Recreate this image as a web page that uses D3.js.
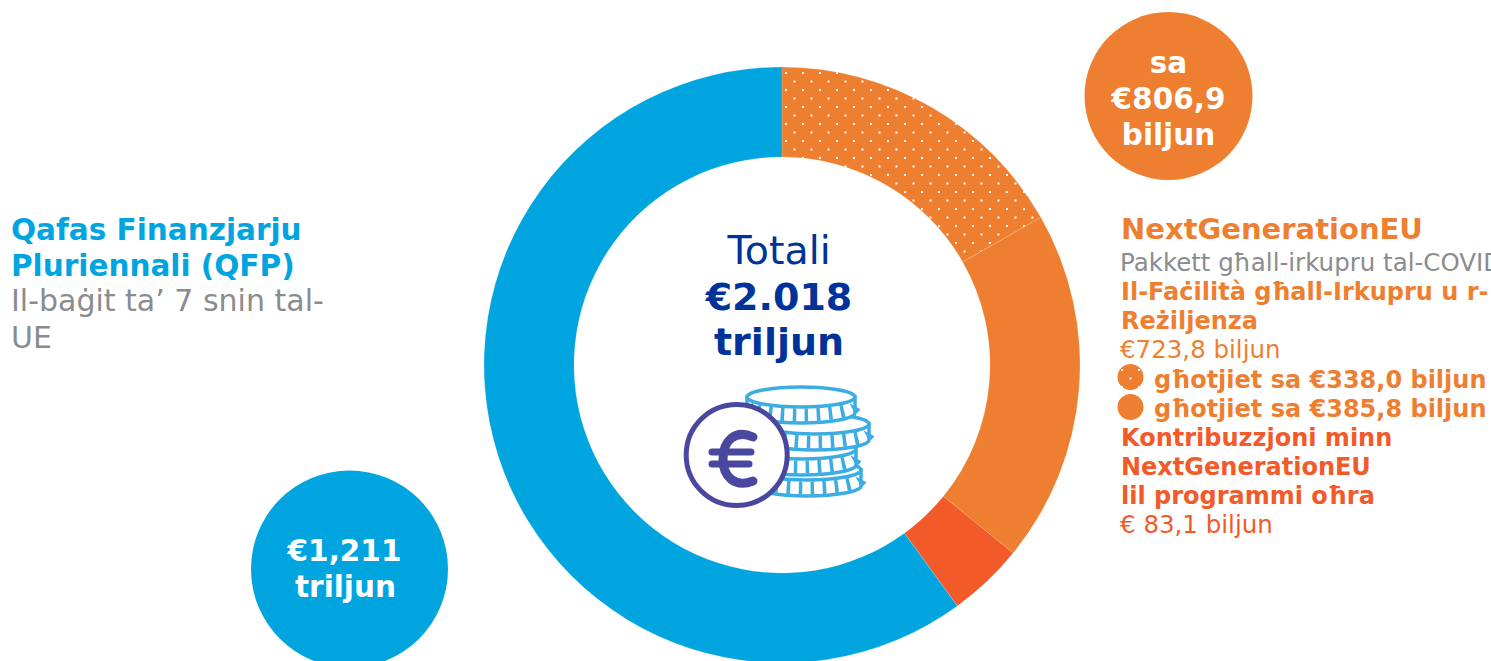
<!DOCTYPE html>
<html><head><meta charset="utf-8">
<script src="https://cdn.jsdelivr.net/npm/d3@7"></script>
<style>html,body{margin:0;padding:0;background:#fff;overflow:hidden}svg{display:block}text{font-family:"DejaVu Sans",Verdana,sans-serif}</style>
</head><body><svg id="c" width="1491" height="661"></svg>
<script>
const categories = ["QFP", "NGEU loans", "NGEU grants", "NGEU programmes"];
const values = [1211, 338.0, 385.8, 83.1];
const order = [1, 2, 3, 0];
const fills = ["#00a5df", "url(#dots)", "#ee7f31", "#f25a2a"];
const svg = d3.select("#c");
const defs = svg.append("defs");
function dotPattern(id, x, y) {
  const p = defs.append("pattern").attr("id", id).attr("patternUnits", "userSpaceOnUse")
    .attr("width", 17).attr("height", 17).attr("x", x).attr("y", y);
  p.append("rect").attr("width", 17).attr("height", 17).attr("fill", "#ee7f31");
  p.append("rect").attr("x", 0).attr("y", 0).attr("width", 2).attr("height", 2).attr("fill", "#fff");
  p.append("rect").attr("x", 8.5).attr("y", 8.5).attr("width", 2).attr("height", 2).attr("fill", "#fff");
}
dotPattern("dots", 3, 13);
dotPattern("dotsSmall", 1121, 369);

const cx = 782, cy = 365, R = 298, r = 208;
const pie = d3.pie().sort(null).value(i => values[i]);
const arc = d3.arc().innerRadius(r).outerRadius(R);
svg.append("g").attr("transform", `translate(${cx},${cy})`).selectAll("path").data(pie(order)).join("path")
  .attr("d", arc).attr("fill", d => fills[d.data]).attr("stroke", "#fff").attr("stroke-opacity", 0.3).attr("stroke-width", 0.5);

function txt(x, y, s, size, color, weight) {
  return svg.append("text").attr("x", x).attr("y", y).attr("font-size", size).attr("fill", color)
    .attr("font-weight", weight || "normal").text(s);
}
function mid(x, y, s, size, color, weight) { return txt(x, y, s, size, color, weight).attr("text-anchor", "middle"); }

// center
mid(779, 264, "Totali", 39.5, "#003399");
mid(779, 310, "€2.018", 38, "#003399", "bold");
mid(779, 355, "triljun", 38, "#003399", "bold");

// bubbles
svg.append("circle").attr("cx", 1168.5).attr("cy", 96).attr("r", 84).attr("fill", "#ee7f31");
mid(1168.5, 73, "sa", 29.5, "#fff", "bold");
mid(1168.5, 109, "€806,9", 29.5, "#fff", "bold");
mid(1168.5, 145, "biljun", 29.5, "#fff", "bold");
svg.append("circle").attr("cx", 349.5).attr("cy", 569).attr("r", 98.5).attr("fill", "#00a5df");
mid(344.5, 561, "€1,211", 29.5, "#fff", "bold");
mid(345.5, 597, "triljun", 29.5, "#fff", "bold");

// left label
txt(11, 240, "Qafas Finanzjarju", 29.5, "#00a5df", "bold");
txt(11, 276, "Pluriennali (QFP)", 29.5, "#00a5df", "bold");
txt(11, 311, "Il-baġit ta’ 7 snin tal-", 30, "#8a8c8e");
txt(11, 348, "UE", 30, "#8a8c8e");

// right label
txt(1121, 239, "NextGenerationEU", 29, "#ee7f31", "bold");
txt(1120, 271, "Pakkett għall-irkupru tal-COVID-19", 24.5, "#8a8c8e");
txt(1121, 300, "Il-Faċilità għall-Irkupru u r-", 24, "#ee7f31", "bold");
txt(1121, 329, "Reżiljenza", 24, "#ee7f31", "bold");
txt(1120, 358, "€723,8 biljun", 24.5, "#ee7f31");
svg.append("circle").attr("cx", 1130.5).attr("cy", 377).attr("r", 13).attr("fill", "url(#dotsSmall)");
svg.append("circle").attr("cx", 1130.5).attr("cy", 407).attr("r", 13).attr("fill", "#ee7f31");
txt(1154, 388, "għotjiet sa €338,0 biljun", 24, "#ee7f31", "bold");
txt(1154, 417, "għotjiet sa €385,8 biljun", 24, "#ee7f31", "bold");
txt(1121, 446, "Kontribuzzjoni minn", 24, "#f25a2a", "bold");
txt(1121, 475, "NextGenerationEU", 24, "#f25a2a", "bold");
txt(1121, 504, "lil programmi oħra", 24, "#f25a2a", "bold");
txt(1120, 533, "€ 83,1 biljun", 24.5, "#f25a2a");

// coin icon
const icon = svg.append("g").attr("fill", "none");
const blue = "#3badE2", purple = "#4a479f";
const ry = 10, rx = 54, h = 16;
function coin(x, y) {
  icon.append("path").attr("d", `M${x - rx} ${y} v${h} A${rx} ${ry} 0 0 0 ${x + rx} ${y + h} v${-h} Z`)
    .attr("fill", "#fff").attr("stroke", blue).attr("stroke-width", 3.5);
  icon.append("path").attr("d", `M${x - rx} ${y + h / 2} A${rx} ${ry} 0 0 0 ${x + rx} ${y + h / 2}`)
    .attr("stroke", blue).attr("stroke-width", 13).attr("stroke-dasharray", "3.5 8.5");
  icon.append("ellipse").attr("cx", x).attr("cy", y).attr("rx", rx).attr("ry", ry).attr("stroke", blue).attr("stroke-width", 3.5).attr("fill", "#fff");
}
coin(807, 470);
coin(802, 449);
coin(815, 424);
coin(801, 397);
icon.append("circle").attr("cx", 736.7).attr("cy", 455).attr("r", 50.5).attr("stroke", purple).attr("stroke-width", 5).attr("fill", "#fff");
icon.append("path").attr("d", "M753 437 C735 429 723 441 723 459 C723 477 735 488 753 481").attr("stroke", purple).attr("stroke-width", 9).attr("stroke-linecap", "round");
icon.append("path").attr("d", "M712 452 H751 M712 464 H749").attr("stroke", purple).attr("stroke-width", 7).attr("stroke-linecap", "round");
</script></body></html>
